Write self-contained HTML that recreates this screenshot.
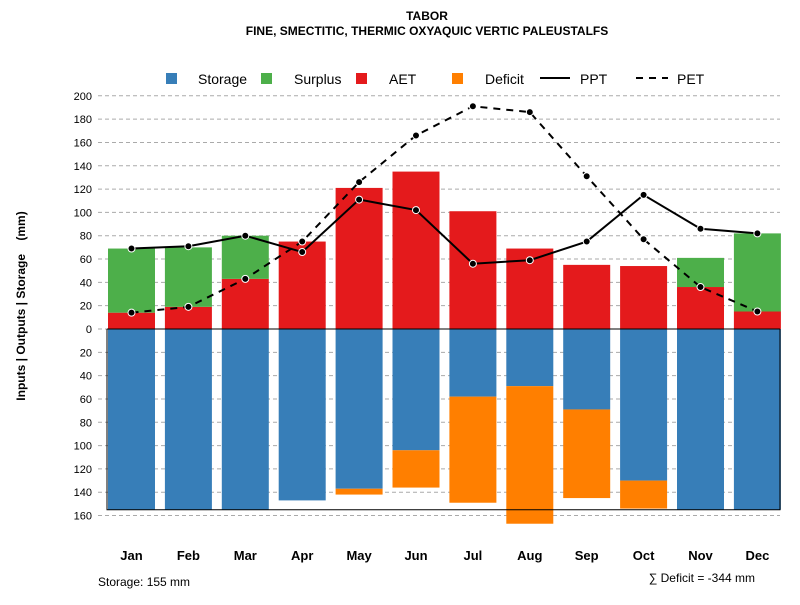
<!DOCTYPE html>
<html><head><meta charset="utf-8"><style>
body{margin:0;background:#fff}
text{font-family:"Liberation Sans",sans-serif}
</style></head><body>
<svg id="c" width="800" height="600" xmlns="http://www.w3.org/2000/svg">
<text x="427" y="20" text-anchor="middle" font-size="12" font-weight="bold">TABOR</text>
<text x="427" y="35" text-anchor="middle" font-size="12" font-weight="bold">FINE, SMECTITIC, THERMIC OXYAQUIC VERTIC PALEUSTALFS</text>
<g id="grid"></g><g id="bars"></g><g id="lines"></g><g id="axes"></g>
<g>
<rect x="166" y="73" width="11" height="11" fill="#377eb8"/><text x="198" y="84" font-size="14">Storage</text>
<rect x="261" y="73" width="11" height="11" fill="#4daf4a"/><text x="294" y="84" font-size="14">Surplus</text>
<rect x="356" y="73" width="11" height="11" fill="#e41a1c"/><text x="389" y="84" font-size="14">AET</text>
<rect x="452" y="73" width="11" height="11" fill="#ff7f00"/><text x="485" y="84" font-size="14">Deficit</text>
<line x1="540" y1="78" x2="570" y2="78" stroke="#000" stroke-width="2"/><text x="580" y="84" font-size="14">PPT</text>
<line x1="636" y1="78" x2="668" y2="78" stroke="#000" stroke-width="2" stroke-dasharray="7,6"/><text x="677" y="84" font-size="14">PET</text>
</g>
<text x="25" y="306" transform="rotate(-90 25 306)" text-anchor="middle" font-size="12" font-weight="bold">Inputs | Outputs | Storage&#160;&#160;&#160;&#160;(mm)</text>
<text x="98" y="586" font-size="12">Storage: 155 mm</text>
<text x="755" y="582" text-anchor="end" font-size="12">∑ Deficit = -344 mm</text>
</svg>
<script>
const months=["Jan","Feb","Mar","Apr","May","Jun","Jul","Aug","Sep","Oct","Nov","Dec"];
const aet=[14,19,43,75,121,135,101,69,55,54,36,15];
const surplus=[55,51,37,0,0,0,0,0,0,0,25,67];
const storage=[155,155,155,147,137,104,58,49,69,130,155,155];
const deficit=[0,0,0,0,5,32,91,118,76,24,0,0];
const ppt=[69,71,80,66,111,102,56,59,75,115,86,82];
const pet=[14,19,43,75,126,166,191,186,131,77,36,15];
const yTicks=[200,180,160,140,120,100,80,60,40,20,0,-20,-40,-60,-80,-100,-120,-140,-160];
const storageMax=155;
const NS="http://www.w3.org/2000/svg";
const y=v=>329-v*1.166;
const xl=i=>108+i*56.9;
const bw=47;
const xc=i=>xl(i)+bw/2;
function mk(t,a,p){const e=document.createElementNS(NS,t);for(const k in a)e.setAttribute(k,a[k]);document.getElementById(p).appendChild(e);return e;}
yTicks.forEach(v=>{
 const g=mk("line",{x1:98,x2:780,y1:y(v),y2:y(v),stroke:"#aaa","stroke-dasharray":"4,3"},"grid");
 
 
 const t=mk("text",{x:92,y:y(v)+4,"text-anchor":"end","font-size":"11"},"axes");
 t.textContent=Math.abs(v);
 
 
});
months.forEach((m,i)=>{
 let r=mk("rect",{x:xl(i),width:bw,y:y(aet[i]),height:aet[i]*1.166,fill:"#e41a1c"},"bars");
 
 
 r=mk("rect",{x:xl(i),width:bw,y:y(aet[i]+surplus[i]),height:surplus[i]*1.166,fill:"#4daf4a"},"bars");
 
 
 r=mk("rect",{x:xl(i),width:bw,y:y(0),height:storage[i]*1.166,fill:"#377eb8"},"bars");
 
 
 r=mk("rect",{x:xl(i),width:bw,y:y(-storage[i]),height:deficit[i]*1.166,fill:"#ff7f00"},"bars");
 
 
 const t=mk("text",{x:xc(i),y:560,"text-anchor":"middle","font-size":"13","font-weight":"bold"},"axes");
 t.textContent=m;
 
 
});
const ax=mk("line",{x1:107,x2:780,y1:y(0),y2:y(0),stroke:"#000","stroke-width":1},"axes");


const box=mk("path",{d:`M107 ${y(0)} V${y(-storageMax)} H780 V${y(0)}`,fill:"none",stroke:"#000","stroke-width":1},"axes");


[[ppt,"","ppt"],[pet,"7,6","pet"]].forEach(([d,da,n])=>{
 const l=mk("polyline",{points:d.map((v,i)=>xc(i)+","+y(v)).join(" "),fill:"none",stroke:"#000","stroke-width":2,"stroke-dasharray":da},"lines");
 
 
 d.forEach((v,i)=>{
  const c=mk("circle",{cx:xc(i),cy:y(v),r:3.5,fill:"#000",stroke:"#fff","stroke-width":1},"lines");
  
  
 });
});
</script>
</body></html>
